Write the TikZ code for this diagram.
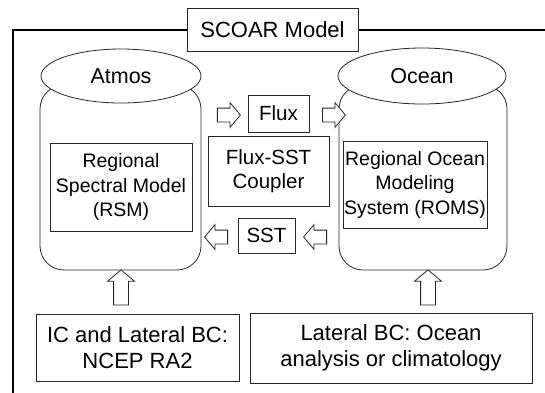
\documentclass[tikz,border=0pt]{standalone}
\usepackage{fontspec}
\setmainfont{Liberation Sans}
\usetikzlibrary{shapes.geometric,shapes.arrows}
\begin{document}
\begin{tikzpicture}[x=1pt,y=-1pt,
  font=\fontsize{20.5}{24.5}\selectfont,
  ln/.style={draw=black!85,line width=0.8pt},
  plainbox/.style={ln,rectangle,fill=white,inner sep=0pt,align=center},
  cylbody/.style={ln,rectangle,rounded corners=24pt,inner sep=0pt},
  cyltop/.style={ln,ellipse,fill=white,inner sep=0pt,font=\fontsize{21.5}{25}\selectfont},
  modeltext/.style={font=\fontsize{19.5}{24.5}\selectfont},
  bottomtext/.style={font=\fontsize{22}{26.5}\selectfont},
  blockarrow/.style={ln,single arrow,fill=white,inner xsep=0pt,inner ysep=6.5pt,single arrow head extend=5.5pt,single arrow tip angle=100,minimum height=23pt},
  uparrow/.style={blockarrow,shape border rotate=90,inner sep=7pt,single arrow head extend=6pt,minimum height=35pt}
]
\useasboundingbox (0,0) rectangle (545,392);
\draw[line width=2.2pt] (13,394) -- (13,30) -- (547,30);
\node[plainbox,minimum width=171pt,minimum height=43pt,font=\fontsize{22}{26}\selectfont] (title) at (272.5,29.5) {SCOAR Model};
% cylinders
\node[cylbody,minimum width=161pt,minimum height=185pt] (abody) at (120.5,177.5) {};
\node[cylbody,minimum width=168pt,minimum height=185pt] (obody) at (423,177.5) {};
\node[cyltop,minimum width=160pt,minimum height=54pt] (atmos) at (121,76) {Atmos};
\node[cyltop,minimum width=168pt,minimum height=56pt] (ocean) at (422,76) {Ocean};
% inner boxes
\node[plainbox,modeltext,minimum width=142pt,minimum height=88pt] (rsm) at (121,187) {Regional\\Spectral Model\\(RSM)};
\node[plainbox,modeltext,minimum width=144pt,minimum height=87pt] (roms) at (415,184.5) {Regional Ocean\\Modeling\\System (ROMS)};
\node[plainbox,minimum width=121pt,minimum height=70pt] (cpl) at (268.5,171) {Flux-SST\\Coupler};
\node[plainbox,minimum width=61pt,minimum height=37pt] (flux) at (278.5,113.5) {Flux};
\node[plainbox,minimum width=57pt,minimum height=35pt] (sst) at (266.5,235.5) {SST};
% bottom boxes
\node[plainbox,bottomtext,minimum width=203pt,minimum height=67pt] (ic) at (137.5,347.5) {IC and Lateral BC:\\NCEP RA2};
\node[plainbox,bottomtext,minimum width=282pt,minimum height=70pt] (lbc) at (391,348) {Lateral BC: Ocean\\analysis or climatology};
% block arrows
\node[blockarrow] (fa1) at (226,115) {};
\node[blockarrow] (fa2) at (331,115) {};
\node[blockarrow,shape border rotate=180] (sa1) at (219,237) {};
\node[blockarrow,shape border rotate=180] (sa2) at (318,237) {};
\node[uparrow] (ua1) at (121,290.5) {};
\node[uparrow] (ua2) at (428,290.5) {};
\end{tikzpicture}
\end{document}
